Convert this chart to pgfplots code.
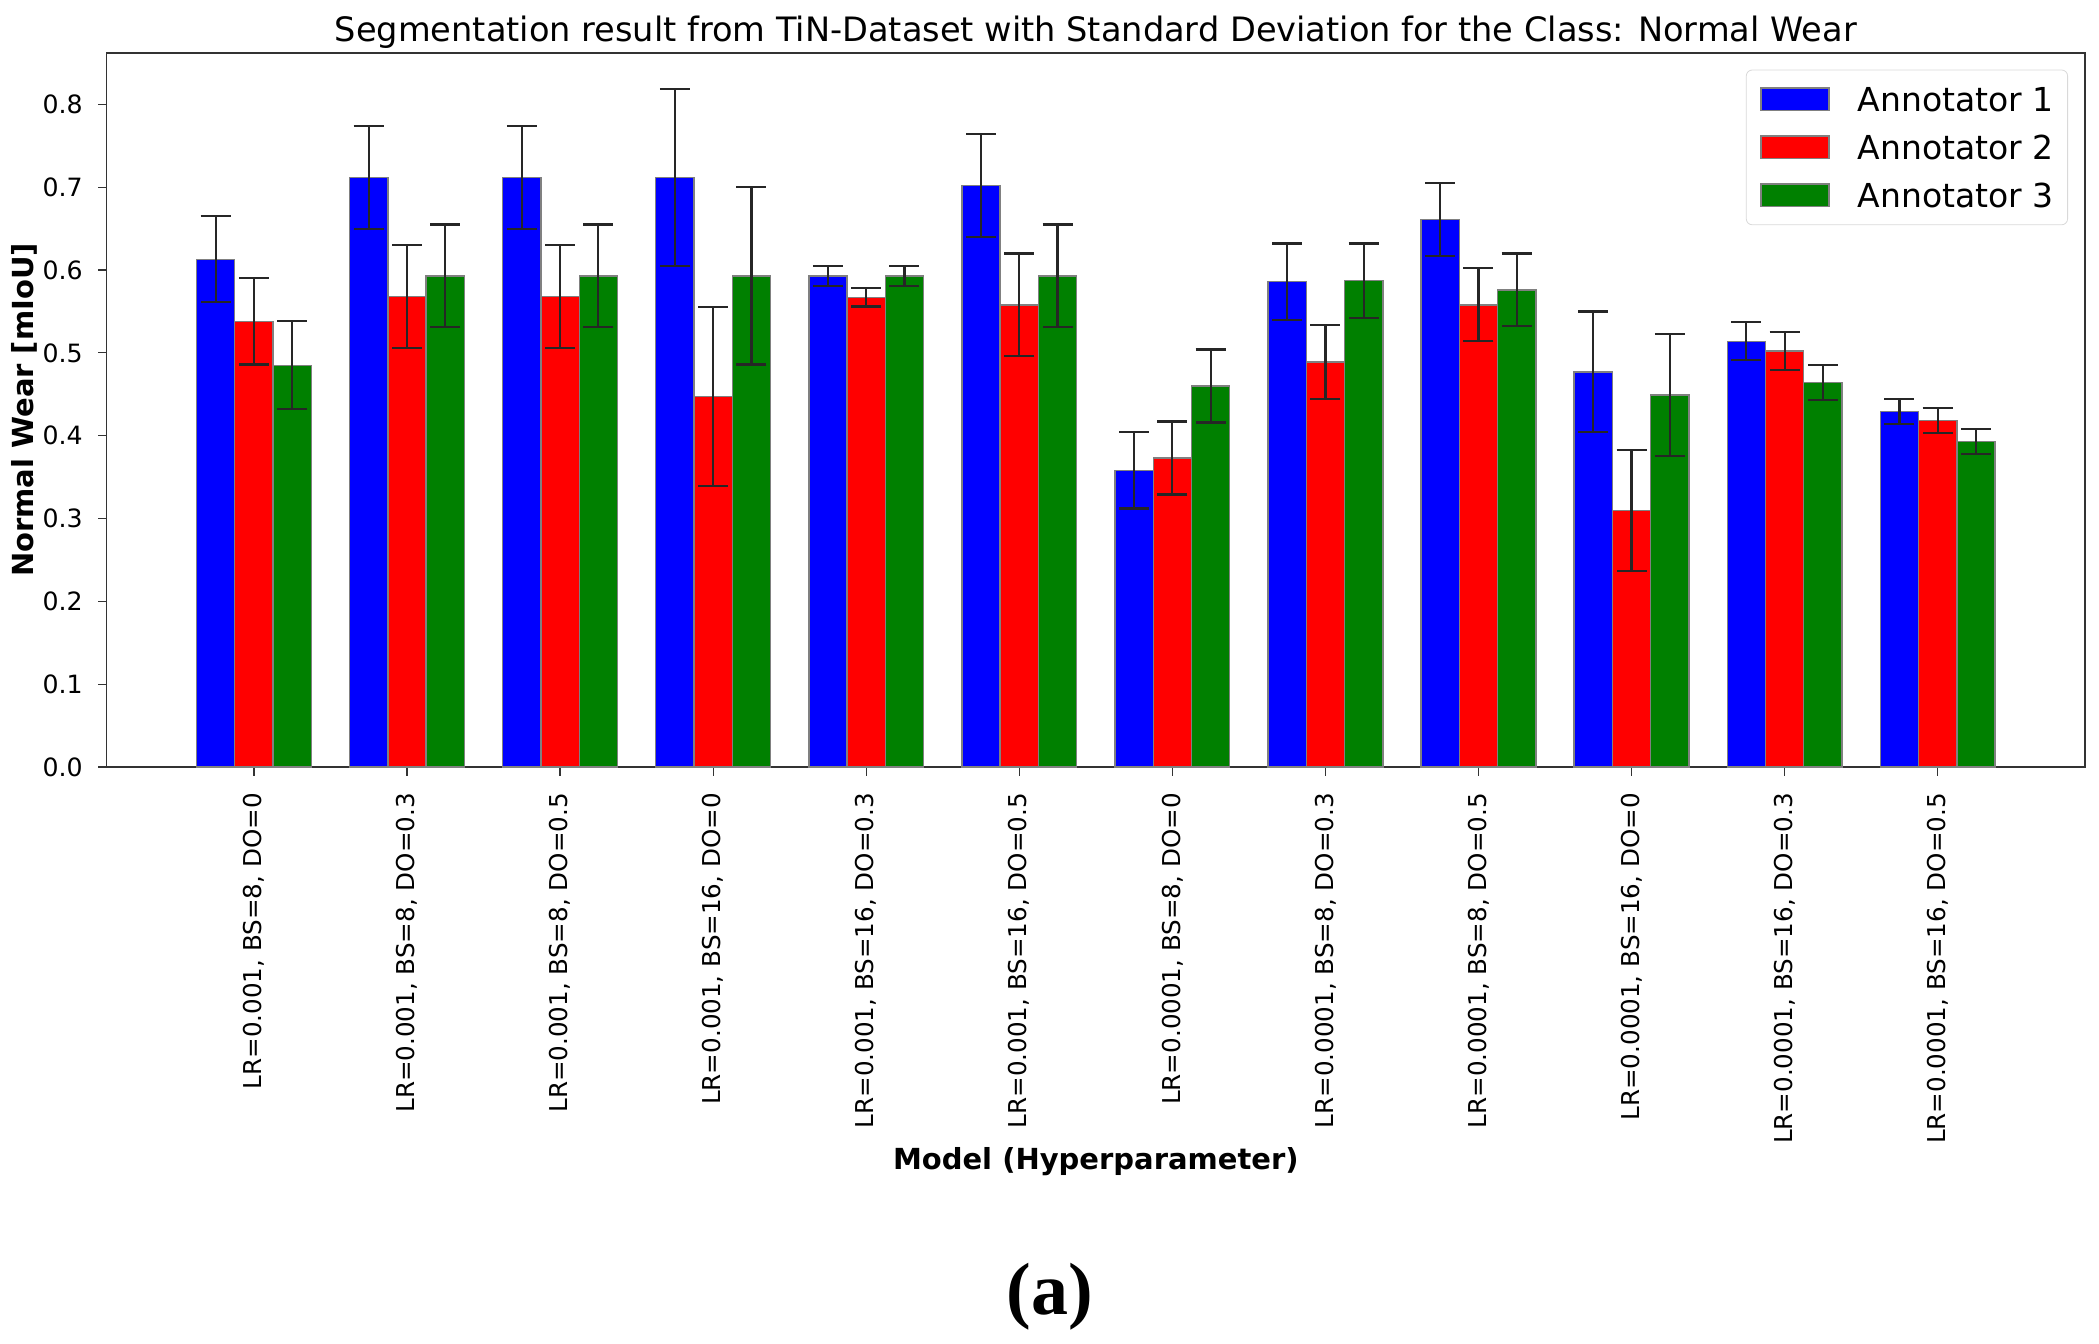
\documentclass[border=0pt]{standalone}
\usepackage{pgfplots}
\pgfplotsset{compat=1.18}
\usepackage{pgfplotstable}
\usepackage{fontspec}
\setmainfont{DejaVu Sans}
\newfontfamily\serifa{Liberation Serif}
\definecolor{mplgreen}{RGB}{0,128,0}
\definecolor{edgegray}{RGB}{128,128,128}

\pgfplotstableread{
x y e
0  0.613 0.052
1  0.712 0.062
2  0.712 0.062
3  0.712 0.107
4  0.593 0.012
5  0.702 0.062
6  0.358 0.046
7  0.586 0.046
8  0.661 0.044
9  0.477 0.073
10 0.514 0.023
11 0.429 0.015
}\annoA
\pgfplotstableread{
x y e
0  0.538 0.052
1  0.568 0.062
2  0.568 0.062
3  0.447 0.108
4  0.567 0.011
5  0.558 0.062
6  0.373 0.044
7  0.489 0.045
8  0.558 0.044
9  0.310 0.073
10 0.502 0.023
11 0.418 0.015
}\annoB
\pgfplotstableread{
x y e
0  0.485 0.053
1  0.593 0.062
2  0.593 0.062
3  0.593 0.107
4  0.593 0.012
5  0.593 0.062
6  0.460 0.044
7  0.587 0.045
8  0.576 0.044
9  0.449 0.074
10 0.464 0.021
11 0.393 0.015
}\annoC

\begin{document}
\begin{tikzpicture}
\useasboundingbox (-53.3pt,-288.5pt) rectangle (996.2pt,383.5pt);
\begin{axis}[
  scale only axis,
  width=989.2pt, height=357pt,
  xmin=-0.9625, xmax=11.9625,
  ymin=0, ymax=0.862,
  axis line style={black!80, line width=0.6pt},
  tick pos=left,
  tick align=outside,
  major tick length=4.3pt,
  tick style={black!80, line width=0.6pt},
  xtick={0,...,11},
  xticklabels={{LR=0.001, BS=8, DO=0},{LR=0.001, BS=8, DO=0.3},{LR=0.001, BS=8, DO=0.5},{LR=0.001, BS=16, DO=0},{LR=0.001, BS=16, DO=0.3},{LR=0.001, BS=16, DO=0.5},{LR=0.0001, BS=8, DO=0},{LR=0.0001, BS=8, DO=0.3},{LR=0.0001, BS=8, DO=0.5},{LR=0.0001, BS=16, DO=0},{LR=0.0001, BS=16, DO=0.3},{LR=0.0001, BS=16, DO=0.5}},
  xticklabel style={rotate=90, anchor=east, inner sep=0pt, font=\fontsize{12.3}{14}\selectfont},
  xticklabel shift=8.6pt,
  ytick={0,0.1,...,0.8},
  yticklabel style={inner sep=0pt, font=\fontsize{12.6}{14}\selectfont, /pgf/number format/.cd, fixed, fixed zerofill, precision=1},
  yticklabel shift=7.5pt,
  /pgf/number format/assume math mode=true,
  ylabel={Normal Wear [mIoU]},
  ylabel style={at={(axis description cs:-0.04175,0.5)}, anchor=center, rotate=0, inner sep=0pt, font=\bfseries\fontsize{14.5}{17}\selectfont},
  xlabel={Model (Hyperparameter)},
  xlabel style={at={(axis description cs:0.5,-0.5532)}, anchor=center, inner sep=0pt, font=\bfseries\fontsize{14.5}{17}\selectfont},
  legend image code/.code={\draw[#1, sharp corners] (0pt,-5.65pt) rectangle (34pt,5.65pt);},
  legend style={at={(1,1)}, anchor=north east, xshift=-8.5pt, yshift=-8.3pt,
    draw=black!15, rounded corners=3pt, fill=white,
    inner xsep=7pt, inner ysep=8.6pt,
    row sep=11.8pt, column sep=14pt,
    font=\fontsize{16.5}{20}\selectfont,
    nodes={inner sep=0pt, text height=12.2pt, text depth=0pt}},
  legend cell align=left,
]
\addplot[ybar, bar width=0.25, bar shift=0pt, fill=blue, draw=edgegray, line width=0.7pt,
  error bars/.cd, y dir=both, y explicit,
  error bar style={black!85, line width=1.1pt},
  error mark options={rotate=90, mark size=7.5pt, black!85, line width=1.1pt}]
  table[x expr=\thisrow{x}-0.25, y=y, y error=e] {\annoA};
\addlegendentry{Annotator 1}
\addplot[ybar, bar width=0.25, bar shift=0pt, fill=red, draw=edgegray, line width=0.7pt,
  error bars/.cd, y dir=both, y explicit,
  error bar style={black!85, line width=1.1pt},
  error mark options={rotate=90, mark size=7.5pt, black!85, line width=1.1pt}]
  table[x=x, y=y, y error=e] {\annoB};
\addlegendentry{Annotator 2}
\addplot[ybar, bar width=0.25, bar shift=0pt, fill=mplgreen, draw=edgegray, line width=0.7pt,
  error bars/.cd, y dir=both, y explicit,
  error bar style={black!85, line width=1.1pt},
  error mark options={rotate=90, mark size=7.5pt, black!85, line width=1.1pt}]
  table[x expr=\thisrow{x}+0.25, y=y, y error=e] {\annoC};
\addlegendentry{Annotator 3}
\end{axis}
\node[anchor=base, inner sep=0pt, font=\fontsize{16.8}{20}\selectfont] at (494.6pt,362.5pt) {Segmentation result from TiN-Dataset with Standard Deviation for the Class: Normal Wear};
\node[anchor=center, inner sep=0pt, font=\serifa\bfseries\fontsize{37}{44}\selectfont] at (471.45pt,-265pt) {(a)};
\end{tikzpicture}
\end{document}
